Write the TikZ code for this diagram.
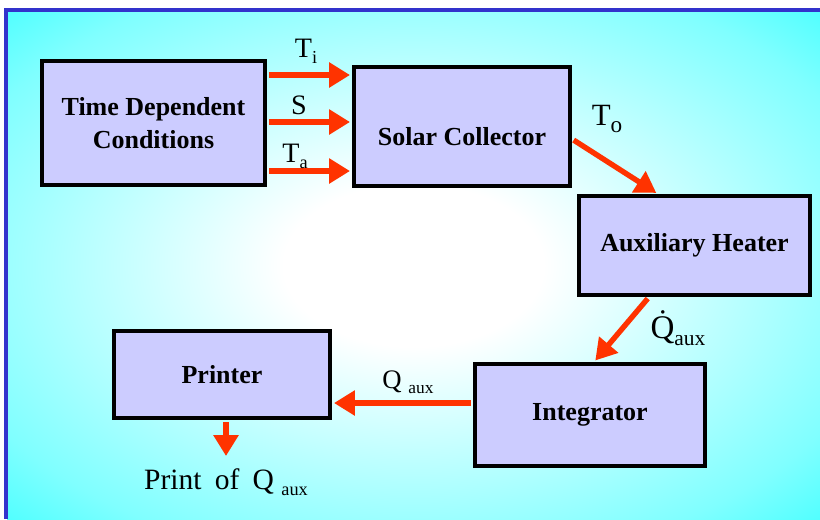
\documentclass[tikz,border=0pt]{standalone}
\usepackage{fontspec}
\setmainfont{Liberation Serif}
\usetikzlibrary{positioning,arrows.meta}
\definecolor{framblue}{HTML}{3333CC}
\definecolor{boxfill}{HTML}{CCCCFF}
\definecolor{flowred}{HTML}{FF3300}
\pgfdeclareradialshading{glow}{\pgfpoint{0bp}{0bp}}{color(0bp)=(white); color(8bp)=(white); color(30bp)=(cyan!50!white); color(45bp)=(cyan); color(50bp)=(cyan)}
\newcommand\sbx[2][0.65]{\raisebox{-0.45ex}{\scalebox{#1}{#2}}}

\begin{document}
\begin{tikzpicture}[
  every node/.style={font=\fontsize{20}{22}\selectfont},
  block/.style={
    draw=black, line width=0.1cm, fill=boxfill, align=center,
    inner sep=0pt, font=\fontsize{18.5}{23}\selectfont\bfseries,
  },
  flow/.style={
    draw=flowred, line width=0.135cm, shorten <=0.05cm, shorten >=0.05cm,
    -{Triangle[length=0.52cm, width=0.6cm]},
  },
  lab/.style={inner sep=0pt},
]
  \useasboundingbox (0,0) rectangle (20.5,-12.975);
  \shade[shading=glow] (0.175,-0.3) rectangle (20.5,-12.975);
  \draw[framblue, line width=0.1cm] (0.14,-12.975) -- (0.14,-0.26) -- (20.5,-0.26);

  \node[block, minimum width=5.575cm, minimum height=3.1cm]   (tdc)     at (3.8375,-3.075)   {Time Dependent\\Conditions};
  \node[block, minimum width=5.4cm,   minimum height=2.975cm,
        text height=0.97cm, text depth=0cm]                   (solar)   at (11.55,-3.1625)   {Solar Collector};
  \node[block, minimum width=5.775cm, minimum height=2.475cm] (aux)     at (17.3625,-6.1375) {Auxiliary Heater};
  \node[block, minimum width=5.75cm,  minimum height=2.55cm]  (integ)   at (14.75,-10.375)   {Integrator};
  \node[block, minimum width=5.4cm,   minimum height=2.175cm] (printer) at (5.55,-9.3625)    {Printer};

  \draw[flow] (tdc.east |- 0,-1.875) -- (solar.west |- 0,-1.875);
  \draw[flow] (tdc.east |- 0,-3.05)  -- (solar.west |- 0,-3.05);
  \draw[flow] (tdc.east |- 0,-4.275) -- (solar.west |- 0,-4.275);
  \node[lab] (tilab) at (7.65,-1.275)  {T\sbx{i}};
  \node[lab] (slab)  at (7.475,-2.625) {S};
  \node[lab] (talab) at (7.375,-3.9)   {T\sbx{a}};

  \draw[flow] ([yshift=-0.3125cm]solar.east) -- ([xshift=-0.9125cm]aux.north);
  \node[lab, font=\fontsize{22}{24}\selectfont] (tolab) at (15.175,-2.975) {T\sbx[0.75]{o}};

  \draw[flow] ([xshift=-1.1375cm]aux.south) -- ([xshift=0.1cm]integ.north);
  \node[lab, font=\fontsize{23.5}{26}\selectfont] (qdotlab) at (16.95,-8.2) {\.{Q}\sbx{aux}};

  \draw[flow] (integ.west |- 0,-10.075) -- (printer.east |- 0,-10.075);
  \node[lab, font=\fontsize{19}{22}\selectfont] (qauxlab) at (10.2,-9.55) {Q \sbx{aux}};

  \coordinate (out) at (5.65,-11.45);
  \draw[flow] (printer.south -| out) -- (out);
  \node[lab, font=\fontsize{21}{23}\selectfont] (printlab) at (5.65,-12.05) {Print\hspace{0.45em}of\hspace{0.45em}Q \sbx[0.62]{aux}};
\end{tikzpicture}
\end{document}
